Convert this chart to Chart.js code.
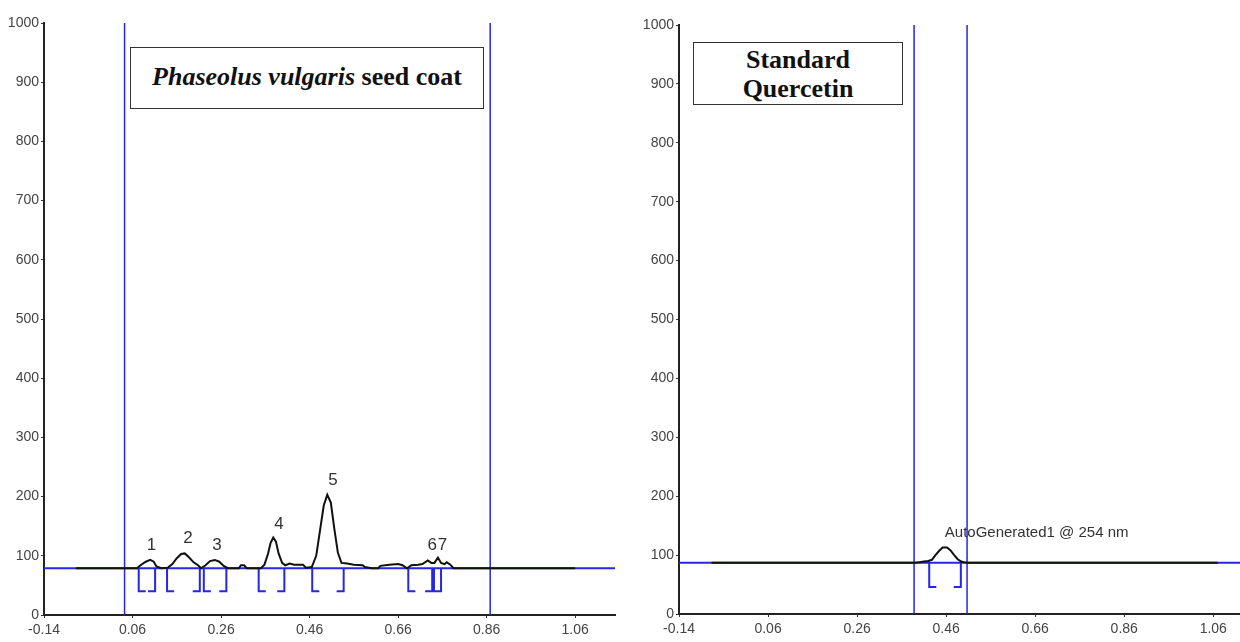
<!DOCTYPE html>
<html>
<head>
<meta charset="utf-8">
<script src="https://cdn.jsdelivr.net/npm/chart.js@4.4.1/dist/chart.umd.min.js"></script>
<style>
body { margin:0; background:#fff; width:1240px; height:642px; overflow:hidden; position:relative; }
canvas { position:absolute; top:0; }
#left { left:0; }
#right { left:620px; }
.box { position:absolute; border:1.5px solid #333; background:#fff; font-family:'Liberation Serif','Times New Roman',serif; font-weight:bold; color:#111; text-align:center; box-sizing:border-box; }
</style>
</head>
<body>
<canvas id="left" width="620" height="642"></canvas>
<canvas id="right" width="620" height="642"></canvas>
<div class="box" style="left:130px;top:47px;width:354px;height:62px;font-size:26px;line-height:58px;"><i>Phaseolus vulgaris</i> seed coat</div>
<div class="box" style="left:693px;top:42px;width:210px;height:63px;font-size:26px;line-height:29px;padding-top:2px;">Standard<br>Quercetin</div>
<script>
// axis ticks (Rf on x, mAU on y)
var xTicks = [-0.14, 0.06, 0.26, 0.46, 0.66, 0.86, 1.06];
var xTickLabels = ['-0.14', '0.06', '0.26', '0.46', '0.66', '0.86', '1.06'];
var yTicks = [0, 100, 200, 300, 400, 500, 600, 700, 800, 900, 1000];
var yTickLabels = ['0', '100', '200', '300', '400', '500', '600', '700', '800', '900', '1000'];

// Phaseolus vulgaris seed coat track
var seedRt = [-0.068, 0.06, 0.07, 0.078, 0.09, 0.100, 0.108, 0.114, 0.125, 0.140, 0.150, 0.160, 0.170, 0.178, 0.188, 0.198, 0.208, 0.215,
  0.225, 0.235, 0.246, 0.256, 0.266, 0.275, 0.300, 0.305, 0.312, 0.318, 0.350, 0.358, 0.366, 0.372, 0.378, 0.384, 0.390, 0.398,
  0.405, 0.415, 0.425, 0.445, 0.452, 0.465, 0.475, 0.483, 0.492, 0.500, 0.508, 0.516, 0.524, 0.532, 0.545, 0.560, 0.580, 0.585,
  0.600, 0.615, 0.620, 0.640, 0.660, 0.670, 0.680, 0.690, 0.705, 0.715, 0.727, 0.735, 0.742, 0.750, 0.757, 0.765, 0.770, 0.778,
  0.785, 1.06];
var seedAbs = [79, 79, 79, 84, 90, 93, 90, 82, 79, 80, 86, 96, 103, 104, 97, 89, 84, 79,
  84, 91, 93, 90, 83, 79, 79, 84, 84, 79, 79, 85, 103, 122, 131, 124, 104, 88,
  84, 87, 85, 85, 80, 81, 100, 140, 185, 203, 190, 145, 105, 88, 87, 85, 84, 81,
  79, 79, 83, 85, 86, 84, 79, 84, 85, 86, 92, 88, 88, 97, 88, 86, 89, 85,
  79, 79];
var seedBaseline = 79;
var seedMarkers = [0.042, 0.868];
var seedPeakStart = [0.074, 0.138, 0.221, 0.345, 0.466, 0.683, 0.741];
var seedPeakEnd = [0.111, 0.212, 0.272, 0.403, 0.537, 0.737, 0.757];
var seedDepth = 40;
var seedPeakNames = ['1', '2', '3', '4', '5', '6', '7'];
var seedLabelRt = [0.103, 0.185, 0.251, 0.391, 0.513, 0.737, 0.760];
var seedLabelAbs = [117, 129, 117, 154, 228, 117, 117];

// Standard quercetin track
var stdRt = [-0.067, 0.39, 0.40, 0.41, 0.42, 0.428, 0.436, 0.444, 0.452, 0.462, 0.470, 0.478, 0.486, 0.494, 0.50, 0.51, 1.07];
var stdAbs = [87, 87, 88, 89, 90, 92, 100, 107, 113, 113, 108, 100, 93, 89, 88, 87, 87];
var stdBaseline = 87;
var stdMarkers = [0.388, 0.507];
var stdPeakStart = [0.422];
var stdPeakEnd = [0.493];
var stdDepth = 46;
var stdPeakNames = ['AutoGenerated1 @ 254 nm'];
var stdLabelRt = [0.457];
var stdLabelAbs = [137];

var blue = '#2626e8';
var tickFont = { family: "'Liberation Sans Narrow', 'Liberation Sans', Arial, sans-serif", size: 14 };

function zip(xs, ys) {
  var out = [];
  for (var i = 0; i < xs.length; i++) out.push({ x: xs[i], y: ys[i] });
  return out;
}

function brackets(starts, ends, base, depth) {
  var foot = 0.016, out = [];
  for (var i = 0; i < starts.length; i++) {
    out.push({ x: starts[i], y: base }, { x: starts[i], y: depth }, { x: starts[i] + foot, y: depth }, { x: starts[i], y: null });
    out.push({ x: ends[i], y: base }, { x: ends[i], y: depth }, { x: ends[i] - foot, y: depth }, { x: ends[i], y: null });
  }
  return out;
}

function markerLines(list) {
  var out = [];
  for (var i = 0; i < list.length; i++) {
    out.push({ x: list[i], y: 0 }, { x: list[i], y: 1000 }, { x: list[i], y: null });
  }
  return out;
}

function makeChart(id, t) {
  var labelPlugin = {
    id: 'peakLabels',
    afterDatasetsDraw: function(chart) {
      var ctx = chart.ctx, xs = chart.scales.x, ys = chart.scales.y;
      ctx.save();
      ctx.font = t.labelFont;
      ctx.fillStyle = '#333';
      ctx.textAlign = t.labelAlign;
      ctx.textBaseline = 'middle';
      for (var i = 0; i < t.names.length; i++) {
        ctx.fillText(t.names[i], xs.getPixelForValue(t.labelRt[i]), ys.getPixelForValue(t.labelAbs[i]));
      }
      ctx.restore();
    }
  };

  return new Chart(document.getElementById(id), {
    type: 'line',
    data: {
      datasets: [
        { data: zip(t.rt, t.abs), borderColor: '#111', borderWidth: 2 },
        { data: [{ x: t.xmin, y: t.base }, { x: t.xmax, y: t.base }], borderColor: blue, borderWidth: 2 },
        { data: markerLines(t.markers), borderColor: blue, borderWidth: 1.5 },
        { data: brackets(t.starts, t.ends, t.base, t.depth), borderColor: blue, borderWidth: 2 }
      ]
    },
    options: {
      responsive: false,
      animation: false,
      spanGaps: false,
      elements: { point: { radius: 0 }, line: { tension: 0 } },
      layout: { padding: { top: t.top, right: t.right, left: 0, bottom: 0 } },
      plugins: { legend: { display: false }, tooltip: { enabled: false } },
      scales: {
        x: {
          type: 'linear', min: t.xmin, max: t.xmax,
          afterBuildTicks: function(scale) { scale.ticks = xTicks.map(function(v) { return { value: v }; }); },
          afterFit: function(scale) { scale.height = 642 - t.bottom; },
          ticks: {
            autoSkip: false, maxRotation: 0, padding: 4, color: '#444', font: tickFont,
            callback: function(v, i) { return xTickLabels[i]; }
          },
          grid: { drawOnChartArea: false, tickLength: 3, color: '#333' },
          border: { color: '#222', width: 2 }
        },
        y: {
          type: 'linear', min: 0, max: 1000,
          afterBuildTicks: function(scale) { scale.ticks = yTicks.map(function(v) { return { value: v }; }); },
          afterFit: function(scale) { scale.width = t.axisX; },
          ticks: {
            padding: 2, color: '#444', font: tickFont,
            callback: function(v, i) { return yTickLabels[i]; }
          },
          grid: { drawOnChartArea: false, tickLength: 3, color: '#333' },
          border: { color: '#222', width: 2 }
        }
      }
    },
    plugins: [labelPlugin]
  });
}

makeChart('left', {
  rt: seedRt, abs: seedAbs, base: seedBaseline, markers: seedMarkers,
  starts: seedPeakStart, ends: seedPeakEnd, depth: seedDepth,
  names: seedPeakNames, labelRt: seedLabelRt, labelAbs: seedLabelAbs,
  labelFont: "17px 'Liberation Sans Narrow', 'Liberation Sans', Arial, sans-serif", labelAlign: 'center',
  xmin: -0.14, xmax: 1.15, top: 23, bottom: 615, right: 5, axisX: 44
});

makeChart('right', {
  rt: stdRt, abs: stdAbs, base: stdBaseline, markers: stdMarkers,
  starts: stdPeakStart, ends: stdPeakEnd, depth: stdDepth,
  names: stdPeakNames, labelRt: stdLabelRt, labelAbs: stdLabelAbs,
  labelFont: "15px 'Liberation Sans Narrow', 'Liberation Sans', Arial, sans-serif", labelAlign: 'left',
  xmin: -0.14, xmax: 1.12, top: 25, bottom: 614, right: 0, axisX: 59
});
</script>
</body>
</html>
